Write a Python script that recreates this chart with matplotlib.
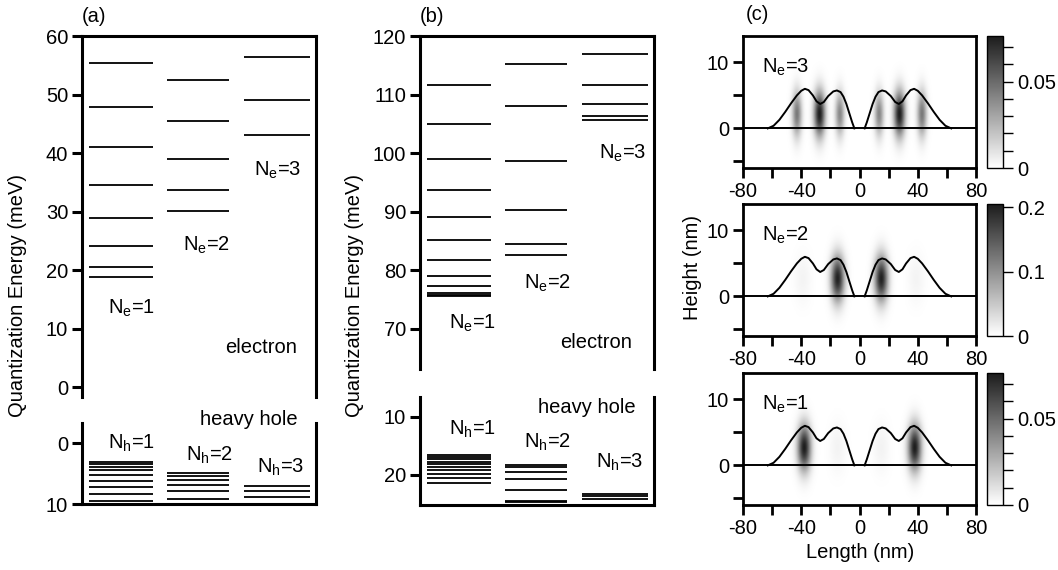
import matplotlib
matplotlib.use('Agg')
import matplotlib.pyplot as plt
import numpy as np
from matplotlib.colors import LinearSegmentedColormap
from matplotlib.ticker import MultipleLocator, FixedLocator

plt.rcParams['font.family'] = ['Liberation Sans', 'DejaVu Sans']
plt.rcParams['mathtext.fontset'] = 'custom'
plt.rcParams['mathtext.rm'] = 'Liberation Sans'
plt.rcParams['font.size'] = 14.5

# уровни энергии, панель (a), мэВ
a_e1 = [55.4, 47.8, 41.0, 34.6, 28.9, 24.1, 20.5, 18.8]
a_e2 = [52.5, 45.4, 39.0, 33.6, 30.1]
a_e3 = [56.4, 49.1, 43.1]
a_h1 = [3.17, 3.39, 3.88, 4.43, 5.3, 6.23, 7.26, 8.36, 9.5]
a_h2 = [4.97, 5.41, 6.07, 6.83, 7.81, 9.18]
a_h3 = [7.0, 7.8, 8.8]

# панель (b)
b_e1 = [111.6, 105.0, 99.0, 93.7, 89.0, 85.1, 81.8, 79.0, 77.2, 76.1, 75.8, 75.5]
b_e2 = [115.3, 108.1, 98.7, 90.2, 84.5, 82.5]
b_e3 = [117.0, 111.6, 108.3, 106.3, 105.6]
b_h1 = [16.55, 16.9, 17.24, 17.7, 18.1, 18.57, 19.08, 19.77, 20.5, 21.4]
b_h2 = [18.33, 18.57, 19.5, 20.74, 22.64, 24.5, 24.7]
b_h3 = [23.3, 23.7, 24.2]

# профиль квантовой точки (левая половина), нм
prof_x = [-63, -59, -55, -51, -47, -43, -40, -37.5, -35, -32, -29.5, -27, -24.5,
          -21.5, -18, -15.5, -13, -11, -9, -7, -5, -3.5]
prof_h = [0, 0.4, 1.3, 2.5, 3.8, 5.0, 5.7, 6.0, 5.8, 5.0, 4.1, 3.7, 4.0,
          4.9, 5.6, 5.75, 5.5, 4.8, 3.7, 2.3, 0.9, 0]

# пятна плотности: x, y, амплитуда, sx, sy
ne3_blobs = [(-43, 2.2, 0.045, 2.3, 2.4), (-27.5, 2.2, 0.076, 2.7, 2.4), (-13.5, 2.2, 0.04, 2.2, 2.3),
             (13.5, 2.2, 0.04, 2.2, 2.3), (27.5, 2.2, 0.076, 2.7, 2.4), (43, 2.2, 0.045, 2.3, 2.4)]
ne2_blobs = [(-15, 2.7, 0.2, 3.2, 2.4), (15, 2.7, 0.2, 3.2, 2.4),
             (-39, 2.7, 0.01, 4.0, 2.6), (39, 2.7, 0.01, 4.0, 2.6)]
ne1_blobs = [(-38, 2.7, 0.076, 3.2, 2.4), (38, 2.7, 0.076, 3.2, 2.4),
             (-15, 2.7, 0.004, 4.0, 2.6), (15, 2.7, 0.004, 4.0, 2.6)]

W, H = 1058, 570
fig = plt.figure(figsize=(W / 100, H / 100), dpi=100)


def box(l, t, r, b):
    return [l / W, 1 - b / H, (r - l) / W, (b - t) / H]


def lab(p, n):
    return r'N$_\mathrm{' + p + '}$=' + str(n)


spans = [(0.09, 0.91), (1.09, 1.89), (2.08, 2.92)]


def levels(ax, cols):
    for (x0, x1), lv in zip(spans, cols):
        ax.hlines(lv, x0, x1, color='k', lw=1.3)
    ax.set_xlim(0, 3)
    ax.set_xticks([])
    for s in ax.spines.values():
        s.set_linewidth(2.2)
    ax.tick_params(axis='y', direction='out', length=7, width=2.2, pad=3)


# (a)
ax1 = fig.add_axes(box(82, 36, 316, 397))
levels(ax1, [a_e1, a_e2, a_e3])
ax1.set_ylim(-1.7, 60)
ax1.set_yticks(np.arange(0, 61, 10))
ax1.spines['bottom'].set_visible(False)
ax1.text(0.63, 13.5, lab('e', 1), ha='center', va='center')
ax1.text(1.6, 24.3, lab('e', 2), ha='center', va='center')
ax1.text(2.51, 37.1, lab('e', 3), ha='center', va='center')
ax1.text(2.3, 6.7, 'electron', ha='center', va='center')

ax2 = fig.add_axes(box(82, 423, 316, 504))
levels(ax2, [a_h1, a_h2, a_h3])
ax2.set_ylim(10, -3.3)
ax2.set_yticks([0, 10])
ax2.spines['top'].set_visible(False)
ax2.text(2.14, -3.9, 'heavy hole', ha='center', va='center', clip_on=False)
ax2.text(0.64, 0.0, lab('h', 1), ha='center', va='center')
ax2.text(1.64, 1.97, lab('h', 2), ha='center', va='center')
ax2.text(2.55, 3.93, lab('h', 3), ha='center', va='center')

# (b)
ax3 = fig.add_axes(box(420, 36, 654, 369))
levels(ax3, [b_e1, b_e2, b_e3])
ax3.set_ylim(63.1, 120)
ax3.set_yticks(np.arange(70, 121, 10))
ax3.spines['bottom'].set_visible(False)
ax3.text(0.67, 70.9, lab('e', 1), ha='center', va='center')
ax3.text(1.63, 77.8, lab('e', 2), ha='center', va='center')
ax3.text(2.6, 100.0, lab('e', 3), ha='center', va='center')
ax3.text(2.26, 67.7, 'electron', ha='center', va='center')

ax4 = fig.add_axes(box(420, 397, 654, 505))
levels(ax4, [b_h1, b_h2, b_h3])
ax4.set_ylim(25.2, 6.55)
ax4.set_yticks([10, 20])
ax4.spines['top'].set_visible(False)
ax4.text(2.14, 8.28, 'heavy hole', ha='center', va='center')
ax4.text(0.67, 12.2, lab('h', 1), ha='center', va='center')
ax4.text(1.63, 14.3, lab('h', 2), ha='center', va='center')
ax4.text(2.56, 17.9, lab('h', 3), ha='center', va='center')

fig.text(18 / W, 1 - 296 / H, 'Quantization Energy (meV)', rotation=90, ha='center', va='center')
fig.text(355 / W, 1 - 296 / H, 'Quantization Energy (meV)', rotation=90, ha='center', va='center')
fig.text(94 / W, 1 - 17 / H, '(a)', ha='center', va='center')
fig.text(432 / W, 1 - 17 / H, '(b)', ha='center', va='center')
fig.text(757 / W, 1 - 15 / H, '(c)', ha='center', va='center')

# (c)
cmap = LinearSegmentedColormap.from_list('gr', ['#ffffff', '#1c1c1c'])
gx = np.linspace(-80, 80, 481)
gy = np.linspace(-6, 14, 121)
GX, GY = np.meshgrid(gx, gy)
px = np.array(prof_x)
ph = np.array(prof_h)

rows = [(36, 168, ne3_blobs, 0.0765, [0, 0.05], ['0', '0.05'], 0.01, 3),
        (204, 336, ne2_blobs, 0.205, [0, 0.1, 0.2], ['0', '0.1', '0.2'], None, 2),
        (373, 505, ne1_blobs, 0.0765, [0, 0.05], ['0', '0.05'], 0.01, 1)]
for top, bot, blobs, vmax, cticks, clabels, cminor, n in rows:
    ax = fig.add_axes(box(743, top, 976, bot))
    dens = np.zeros_like(GX)
    for bx, by, amp, sx, sy in blobs:
        dens += amp * np.exp(-0.5 * ((GX - bx) / sx) ** 2 - 0.5 * ((GY - by) / sy) ** 2)
    im = ax.imshow(dens, extent=[-80, 80, -6, 14], origin='lower', aspect='auto',
                   cmap=cmap, vmin=0, vmax=vmax, interpolation='bilinear')
    ax.plot([-80, 80], [0, 0], color='k', lw=1.4)
    ax.plot(px, ph, color='k', lw=1.4)
    ax.plot(-px[::-1], ph[::-1], color='k', lw=1.4)
    ax.set_xlim(-80, 80)
    ax.set_ylim(-6, 14)
    ax.set_xticks([-80, -40, 0, 40, 80])
    ax.set_xticklabels(['-80', '-40', '0', '40', '80'])
    ax.xaxis.set_minor_locator(FixedLocator([-60, -20, 20, 60]))
    ax.set_yticks([0, 10])
    ax.yaxis.set_minor_locator(FixedLocator([-5, 5]))
    ax.tick_params(which='both', direction='out', length=7, width=2, pad=3)
    for s in ax.spines.values():
        s.set_linewidth(2)
    ax.text(-51, 9.3, lab('e', n), ha='center', va='center')

    cax = fig.add_axes(box(987, top, 1003, bot))
    cb = fig.colorbar(im, cax=cax)
    cb.set_ticks(cticks)
    cb.set_ticklabels(clabels)
    if cminor:
        cax.yaxis.set_minor_locator(MultipleLocator(cminor))
    cb.outline.set_linewidth(1)
    cax.tick_params(which='both', direction='out', length=7, width=1, pad=3)

fig.text(693 / W, 1 - 268 / H, 'Height (nm)', rotation=90, ha='center', va='center')
fig.text(860 / W, 1 - 552 / H, 'Length (nm)', ha='center', va='center')

fig.savefig('out.png', dpi=100)
